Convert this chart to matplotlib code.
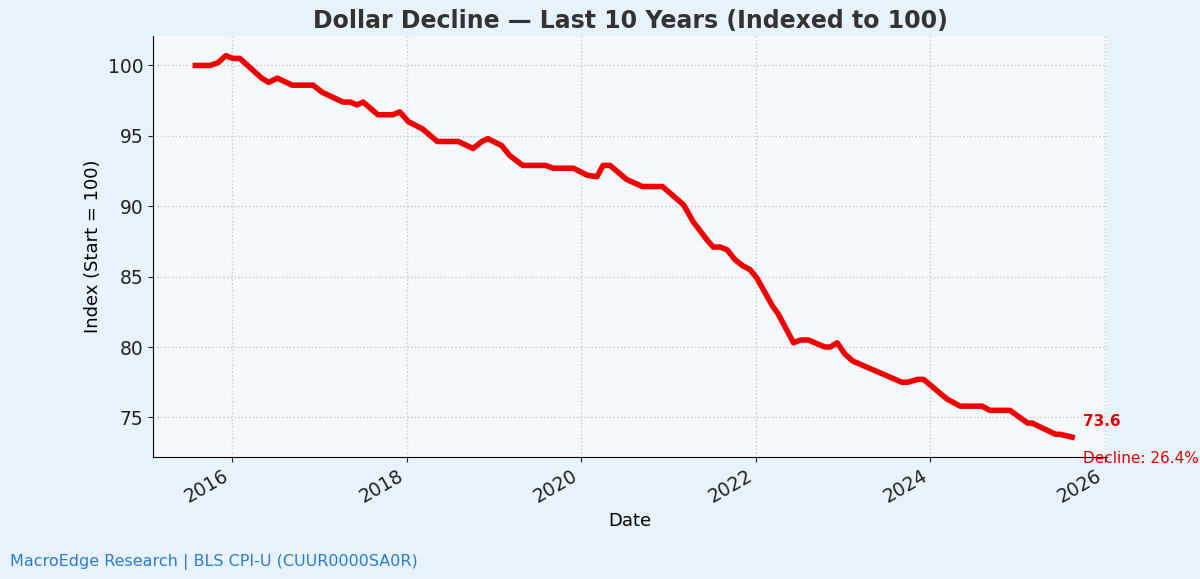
import matplotlib
matplotlib.use("Agg")
import matplotlib.pyplot as plt
import pandas as pd
import numpy as np

years = [2015.58,2015.75,2015.84,2015.93,2016.01,2016.09,2016.34,2016.42,2016.52,2016.69,2016.93,
 2017.03,2017.27,2017.35,2017.43,2017.50,2017.67,2017.84,2017.92,2018.02,2018.18,2018.35,2018.59,
 2018.76,2018.86,2018.93,2019.09,2019.18,2019.33,2019.59,2019.68,2019.91,2020.07,2020.18,2020.25,
 2020.33,2020.52,2020.70,2020.93,2021.17,2021.28,2021.44,2021.51,2021.59,2021.67,2021.76,2021.84,
 2021.93,2022.01,2022.19,2022.25,2022.43,2022.51,2022.60,2022.79,2022.85,2022.93,2023.02,2023.11,
 2023.67,2023.74,2023.85,2023.92,2024.19,2024.34,2024.59,2024.68,2024.91,2025.11,2025.16,2025.43,
 2025.48,2025.62]
index_vals = [100.0,100.0,100.2,100.7,100.5,100.5,99.1,98.8,99.1,98.6,98.6,
 98.1,97.4,97.4,97.2,97.4,96.5,96.5,96.7,96.0,95.5,94.6,94.6,
 94.1,94.6,94.8,94.3,93.6,92.9,92.9,92.7,92.7,92.2,92.1,92.9,
 92.9,91.9,91.4,91.4,90.1,88.9,87.6,87.1,87.1,86.9,86.2,85.8,
 85.5,84.9,82.9,82.4,80.3,80.5,80.5,80.0,80.0,80.3,79.5,79.0,
 77.5,77.5,77.7,77.7,76.3,75.8,75.8,75.5,75.5,74.6,74.6,73.8,
 73.8,73.6]

def to_date(y):
    yr = int(np.floor(y))
    return pd.Timestamp(yr, 1, 1) + pd.to_timedelta((y - yr) * 365.25, unit="D")

dates = [to_date(y) for y in years]

fig = plt.figure(figsize=(12, 5.79), dpi=100, facecolor="#e8f2fd")
ax = fig.add_axes([0.1275, 0.211, 0.795, 0.727])
ax.set_facecolor("#f5f9fd")
ax.plot(dates, index_vals, color="#ee0000", lw=4, solid_joinstyle="round")
ax.grid(True, linestyle=":", color="#c4c8cc", lw=1)
ax.set_xlim(to_date(2015.095), to_date(2026.02))
ax.set_ylim(72.2, 102.1)
ax.set_yticks([75, 80, 85, 90, 95, 100])
ax.set_xticks([pd.Timestamp(y, 1, 1) for y in range(2016, 2027, 2)])
ax.set_xticklabels([str(y) for y in range(2016, 2027, 2)], rotation=30, ha="right")
ax.tick_params(labelsize=13.5, colors="#222222")
for s in ["top", "right"]:
    ax.spines[s].set_visible(False)
ax.set_xlabel("Date", fontsize=13)
ax.set_ylabel("Index (Start = 100)", fontsize=13)
ax.set_title("Dollar Decline — Last 10 Years (Indexed to 100)", fontsize=17, fontweight="bold", color="#333333")
ax.text(to_date(2025.74), 74.7, f"{index_vals[-1]:.1f}", color="#e00000", fontsize=11, fontweight="bold", va="center")
ax.text(to_date(2025.74), 72.1, f"Decline: {100 - index_vals[-1]:.1f}%", color="#e00000", fontsize=11, va="center", clip_on=False)
fig.text(0.008, 0.022, "MacroEdge Research | BLS CPI-U (CUUR0000SA0R)", color="#2b7bd0", fontsize=11.5)
fig.savefig("out.png", dpi=100, facecolor=fig.get_facecolor())
